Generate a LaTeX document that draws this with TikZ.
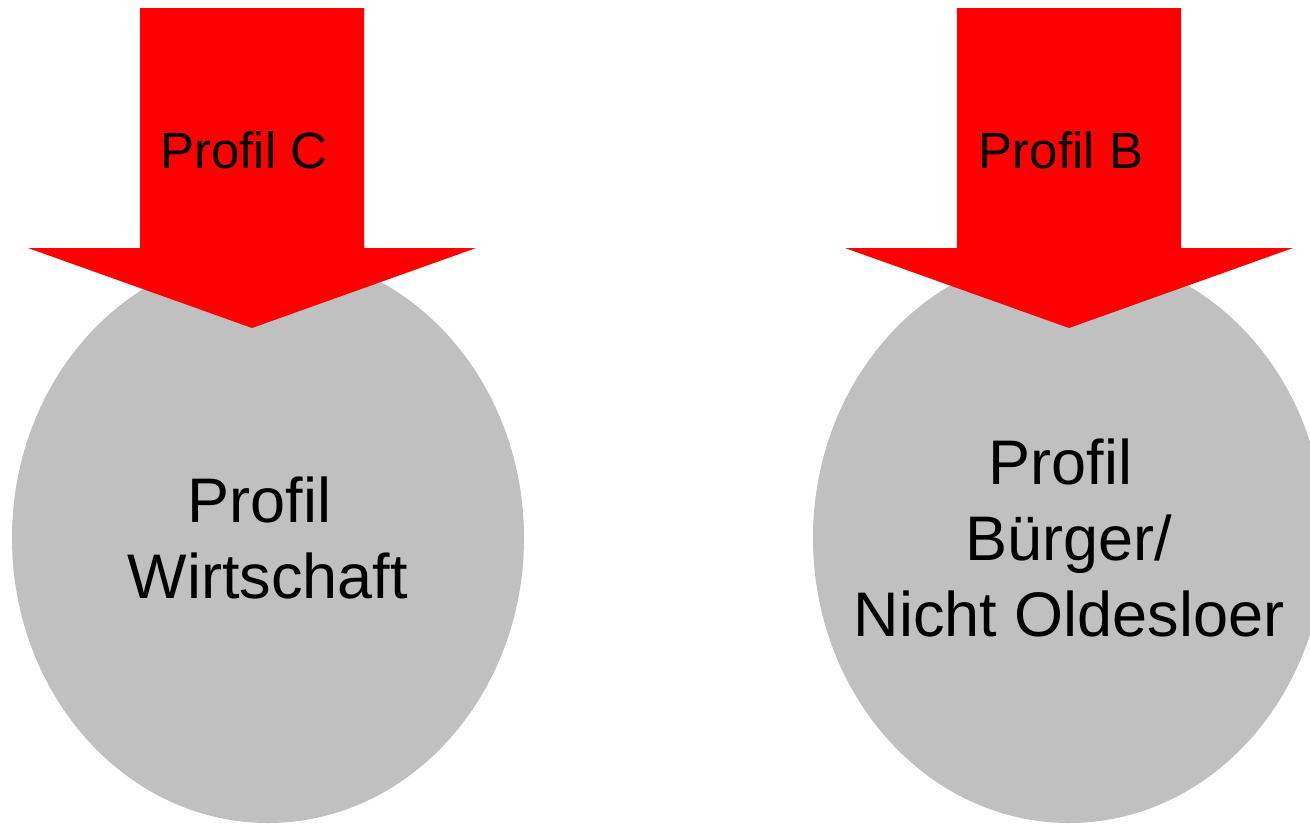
\documentclass[tikz,border=0pt]{standalone}
\usepackage{fontspec}
\setmainfont{Liberation Sans}
\usetikzlibrary{shapes.geometric}
\definecolor{discgray}{HTML}{C0C0C0}
\definecolor{arrowred}{HTML}{FF0000}
\begin{document}
\begin{tikzpicture}[x=1pt,y=-1pt,
  disc/.style={ellipse,fill=discgray,draw=none,minimum width=512pt,minimum height=570pt,inner sep=0pt},
  disctext/.style={align=center,inner sep=0pt,font=\fontsize{63}{76}\selectfont},
  arrowlabel/.style={font=\fontsize{51}{60}\selectfont,inner sep=0pt}]
\useasboundingbox (0,0) rectangle (1310,823);
\fill[white] (0,0) rectangle (1310,823);
\node[disc] (wirt) at (268,538) {};
\node[disc] (buerger) at (1069,538) {};
\node[disctext] (wirttext) at (wirt.center) {Profil\hphantom{\ }\\Wirtschaft};
\node[disctext] (buergertext) at (buerger.center) {Profil\hphantom{\ }\\Bürger/\\Nicht Oldesloer};
\fill[arrowred] (140,8) -- (364,8) -- (364,248) -- (476,248) -- (252,328) -- (28,248) -- (140,248) -- cycle;
\fill[arrowred] (957,8) -- (1181,8) -- (1181,248) -- (1293,248) -- (1069,328) -- (845,248) -- (957,248) -- cycle;
\node[arrowlabel] (pc) at (244,150) {Profil C};
\node[arrowlabel] (pb) at (1061,150) {Profil B};
\end{tikzpicture}
\end{document}
